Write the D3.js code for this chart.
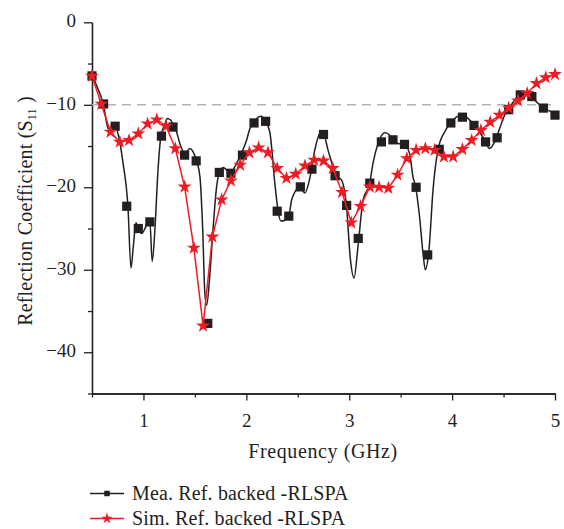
<!DOCTYPE html>
<html>
<head>
<meta charset="utf-8">
<script src="https://cdn.jsdelivr.net/npm/d3@7"></script>
<style>
  body { margin: 0; background: #fff; }
  svg { display: block; font-family: "Liberation Serif", "Times New Roman", serif; }
  .axis path, .axis line { stroke: #231f20; stroke-width: 1.3; }
  .axis text { font-size: 19px; fill: #231f20; font-family: "Liberation Serif", serif; }
</style>
</head>
<body>
<svg id="chart" width="564" height="529"></svg>
<script>
// simulated S11 (red stars)
const simFreq = [0.50, 0.59, 0.68, 0.77, 0.86, 0.95, 1.04, 1.13, 1.22, 1.31, 1.40, 1.49, 1.58, 1.67, 1.76, 1.85, 1.94,
  2.03, 2.12, 2.21, 2.30, 2.39, 2.48, 2.57, 2.66, 2.75, 2.84, 2.93, 3.02, 3.11, 3.20, 3.29, 3.38, 3.47, 3.56, 3.65,
  3.74, 3.83, 3.92, 4.01, 4.10, 4.19, 4.28, 4.37, 4.46, 4.55, 4.64, 4.73, 4.82, 4.91, 5.00]
const simDb = [-6.5, -9.9, -13.3, -14.5, -14.3, -13.5, -12.3, -11.8, -12.6, -15.3, -19.95, -27.35, -36.8, -26.0, -21.5,
  -19.2, -17.3, -15.8, -15.2, -15.8, -17.7, -18.9, -18.4, -17.4, -16.7, -16.8, -17.7, -20.6, -24.3, -22.3, -19.95,
  -20.0, -20.1, -18.5, -16.5, -15.5, -15.3, -15.5, -16.3, -16.3, -15.4, -14.3, -13.1, -12.1, -11.25, -10.4, -9.5,
  -8.6, -7.4, -6.7, -6.3]

// measured S11 markers (black squares)
const meaFreq = [0.5, 0.6125, 0.725, 0.8375, 0.95, 1.0625, 1.175, 1.2875, 1.4, 1.5125, 1.625, 1.7375, 1.85, 1.9625,
  2.075, 2.1875, 2.3, 2.4125, 2.525, 2.6375, 2.75, 2.8625, 2.975, 3.0875, 3.2, 3.3125, 3.425, 3.5375, 3.65, 3.7625,
  3.875, 3.9875, 4.1, 4.2125, 4.325, 4.4375, 4.55, 4.6625, 4.775, 4.8875, 5.0]
const meaDb = [-6.5, -9.9, -12.6, -22.3, -25.0, -24.2, -13.8, -12.7, -16.1, -16.8, -36.5, -18.2, -18.3, -16.1, -12.2,
  -12.0, -22.9, -23.5, -19.95, -17.8, -13.6, -18.6, -22.2, -26.2, -19.5, -14.5, -14.25, -14.8, -20.0, -28.2, -15.4,
  -12.2, -11.5, -12.5, -14.5, -14.0, -10.6, -8.8, -9.0, -10.4, -11.25]

// measured S11 trace (black curve)
const meaLineFreq = [0.500, 0.549, 0.610, 0.658, 0.691, 0.723, 0.762, 0.801, 0.850, 0.879, 0.903, 0.927, 0.950, 0.983,
  1.015, 1.044, 1.063, 1.085, 1.112, 1.141, 1.170, 1.209, 1.231, 1.264, 1.296, 1.322, 1.354, 1.403, 1.451, 1.483,
  1.516, 1.549, 1.575, 1.597, 1.614, 1.646, 1.678, 1.711, 1.736, 1.775, 1.808, 1.840, 1.888, 1.937, 2.002, 2.034,
  2.073, 2.115, 2.148, 2.180, 2.228, 2.277, 2.309, 2.335, 2.374, 2.413, 2.439, 2.471, 2.519, 2.568, 2.617, 2.665,
  2.714, 2.746, 2.794, 2.827, 2.869, 2.924, 2.973, 3.012, 3.047, 3.085, 3.134, 3.199, 3.231, 3.280, 3.345, 3.386,
  3.419, 3.474, 3.532, 3.587, 3.619, 3.646, 3.684, 3.717, 3.740, 3.775, 3.814, 3.862, 3.927, 3.983, 4.041, 4.105,
  4.153, 4.218, 4.267, 4.316, 4.364, 4.413, 4.461, 4.510, 4.575, 4.639, 4.688, 4.736, 4.801, 4.882, 4.979, 5.000]
const meaLineDb = [-6.3, -7.8, -9.9, -12.9, -13.1, -12.6, -14.0, -17.0, -22.5, -29.8, -27.0, -24.3, -25.0, -25.6,
  -25.0, -24.2, -24.2, -29.0, -25.0, -18.0, -13.8, -12.3, -11.65, -11.85, -12.7, -13.3, -14.7, -15.9, -15.3, -15.7,
  -16.8, -18.7, -24.8, -32.9, -34.3, -30.5, -24.8, -19.95, -18.3, -17.6, -17.9, -18.4, -17.5, -16.3, -14.3, -12.9,
  -12.2, -11.5, -11.4, -11.9, -13.3, -19.5, -22.9, -24.1, -24.0, -23.5, -21.6, -20.6, -19.95, -20.7, -18.9, -15.5,
  -13.5, -13.4, -15.5, -16.9, -18.6, -19.1, -22.2, -28.8, -31.0, -27.2, -21.6, -19.5, -17.1, -14.7, -13.4, -13.6,
  -14.25, -14.7, -14.8, -15.9, -18.7, -20.0, -23.6, -28.0, -30.0, -27.6, -20.4, -15.5, -13.3, -12.2, -11.5, -11.25,
  -11.65, -12.5, -13.3, -14.3, -15.3, -14.5, -12.9, -11.25, -10.0, -9.0, -8.6, -8.7, -9.4, -10.4, -11.0, -11.3]

const xMajor = [1, 2, 3, 4, 5]
const xMinor = [0.5, 1.5, 2.5, 3.5, 4.5]
const yMajor = [0, -10, -20, -30, -40]
const yMinor = [-5, -15, -25, -35, -45]
const threshold = -10

const legendLabels = ['Mea. Ref. backed -RLSPA', 'Sim. Ref. backed -RLSPA']

const black = '#231f20'
const red = '#ed1c24'

const svg = d3.select('#chart')

const x = d3.scaleLinear().domain([0.5, 5]).range([92, 555])
const y = d3.scaleLinear().domain([-45, 0]).range([393.5, 22.3])

// axes
const xAxis = svg.append('g')
	.attr('class', 'axis')
	.attr('transform', `translate(0,${y(-45)})`)
	.call(d3.axisBottom(x).tickValues(xMajor).tickSize(7).tickSizeOuter(0).tickPadding(14).tickFormat(d3.format('d')))

svg.append('g')
	.attr('class', 'axis')
	.attr('transform', `translate(0,${y(-45)})`)
	.call(d3.axisBottom(x).tickValues(xMinor).tickSize(4).tickSizeOuter(0).tickFormat(''))

const yAxis = svg.append('g')
	.attr('class', 'axis')
	.attr('transform', `translate(${x(0.5)},0)`)
	.call(d3.axisLeft(y).tickValues(yMajor).tickSize(8).tickSizeOuter(0).tickPadding(8).tickFormat(d3.format('d')))

svg.append('g')
	.attr('class', 'axis')
	.attr('transform', `translate(${x(0.5)},0)`)
	.call(d3.axisLeft(y).tickValues(yMinor).tickSize(4).tickSizeOuter(0).tickFormat(''))

yAxis.selectAll('text').attr('dy', null).attr('dominant-baseline', 'middle')
xAxis.selectAll('text').attr('dy', null).attr('y', 33)

// -10 dB reference
svg.append('line')
	.attr('x1', x(0.5)).attr('x2', x(5))
	.attr('y1', y(threshold)).attr('y2', y(threshold))
	.attr('stroke', '#b3b3b3')
	.attr('stroke-width', 1.5)
	.attr('stroke-dasharray', '9,6')

// measured trace
const meaLine = d3.line()
	.x(i => x(meaLineFreq[i]))
	.y(i => y(meaLineDb[i]))
	.curve(d3.curveMonotoneX)

svg.append('path')
	.attr('d', meaLine(d3.range(meaLineFreq.length)))
	.attr('fill', 'none')
	.attr('stroke', black)
	.attr('stroke-width', 1.5)

svg.selectAll('.mea-pt')
	.data(meaFreq)
	.enter()
	.append('path')
	.attr('class', 'mea-pt')
	.attr('transform', (d, i) => `translate(${x(d)},${y(meaDb[i])})`)
	.attr('d', d3.symbol(d3.symbolSquare, 85)())
	.attr('fill', black)

// simulated
const simLine = d3.line()
	.x(i => x(simFreq[i]))
	.y(i => y(simDb[i]))

svg.append('path')
	.attr('d', simLine(d3.range(simFreq.length)))
	.attr('fill', 'none')
	.attr('stroke', red)
	.attr('stroke-width', 1.5)

svg.selectAll('.sim-pt')
	.data(simFreq)
	.enter()
	.append('path')
	.attr('class', 'sim-pt')
	.attr('transform', (d, i) => `translate(${x(d)},${y(simDb[i])})`)
	.attr('d', d3.symbol(d3.symbolStar, 60)())
	.attr('fill', red)

// axis titles
svg.append('text')
	.attr('x', 323)
	.attr('y', 458)
	.attr('text-anchor', 'middle')
	.attr('font-size', 20)
	.attr('letter-spacing', 0.6)
	.attr('fill', black)
	.text('Frequency (GHz)')

const yt = svg.append('text')
	.attr('transform', 'translate(32,211) rotate(-90)')
	.attr('text-anchor', 'middle')
	.attr('font-size', 20)
	.attr('letter-spacing', 0.2)
	.attr('fill', black)
yt.append('tspan').text('Reflection Coefficient (S')
yt.append('tspan').attr('font-size', 12).attr('dy', 4).text('11')
yt.append('tspan').attr('dy', -4).text(' )')

// legend
const legend = svg.append('g')
const rows = legend.selectAll('g')
	.data(legendLabels)
	.enter()
	.append('g')
	.attr('transform', (d, i) => `translate(0,${493.5 + i * 25})`)

rows.append('line')
	.attr('x1', 90).attr('x2', 124)
	.attr('stroke', (d, i) => i === 0 ? black : red)
	.attr('stroke-width', 1.5)

rows.append('path')
	.attr('transform', 'translate(107,0)')
	.attr('d', (d, i) => i === 0 ? d3.symbol(d3.symbolSquare, 30)() : d3.symbol(d3.symbolStar, 40)())
	.attr('fill', (d, i) => i === 0 ? black : red)

rows.append('text')
	.attr('x', 132)
	.attr('y', 6.5)
	.attr('font-size', 20)
	.attr('letter-spacing', 0.15)
	.attr('fill', black)
	.text(d => d)
</script>
</body>
</html>
